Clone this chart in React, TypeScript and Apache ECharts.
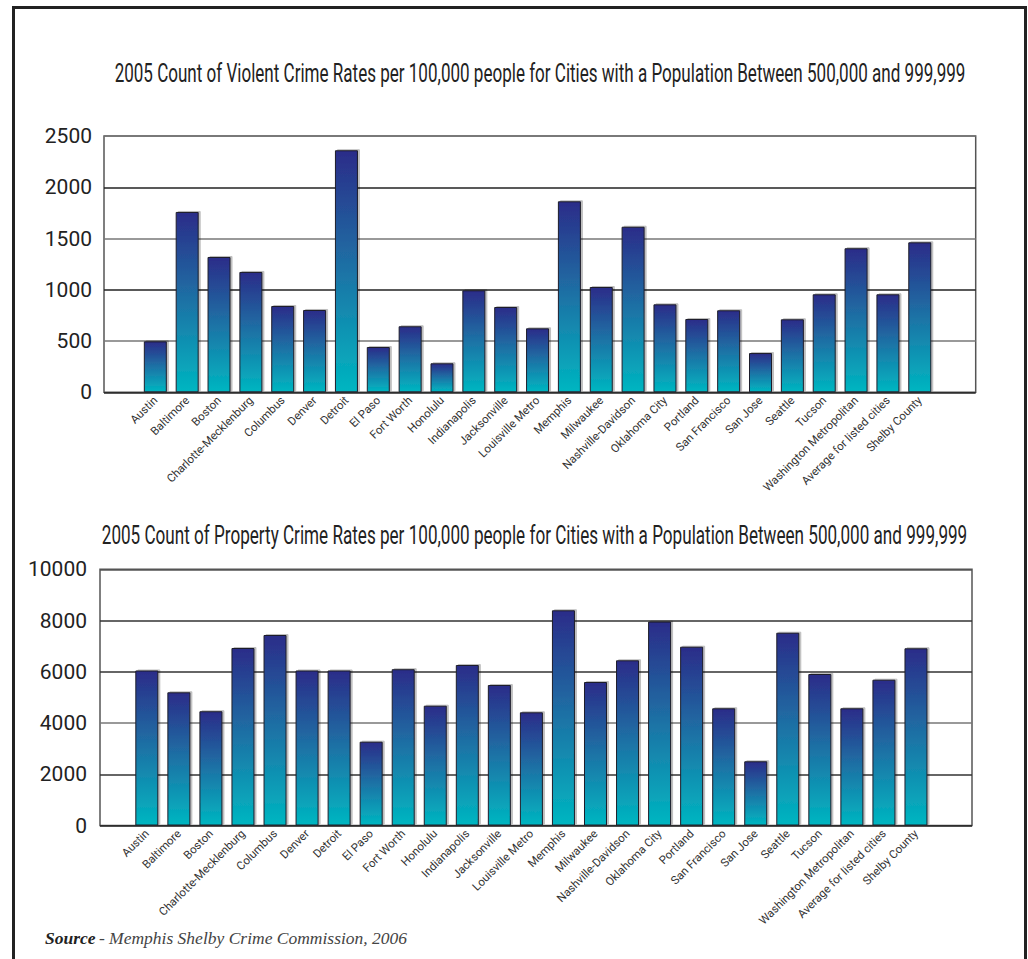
import React, { useEffect, useRef } from "react";
import * as echarts from "echarts";

const categories = [
  "Austin", "Baltimore", "Boston", "Charlotte-Mecklenburg", "Columbus", "Denver", "Detroit",
  "El Paso", "Fort Worth", "Honolulu", "Indianapolis", "Jacksonville", "Louisville Metro",
  "Memphis", "Milwaukee", "Nashville-Davidson", "Oklahoma City", "Portland", "San Francisco",
  "San Jose", "Seattle", "Tucson", "Washington Metropolitan", "Average for listed cities", "Shelby County",
];

const violentValues = [
  497, 1759, 1320, 1174, 842, 803, 2361, 442, 644, 283, 995, 832, 624,
  1863, 1027, 1615, 858, 715, 800, 383, 712, 956, 1405, 956, 1463,
];

const propertyValues = [
  6050, 5199, 4460, 6928, 7435, 6050, 6050, 3271, 6100, 4676, 6265, 5484, 4418,
  8400, 5601, 6448, 7960, 6979, 4575, 2506, 7525, 5913, 4575, 5691, 6916,
];

const violentTitle =
  "2005 Count of Violent Crime Rates per 100,000 people for Cities with a Population Between 500,000 and 999,999";
const propertyTitle =
  "2005 Count of Property Crime Rates per 100,000 people for Cities with a Population Between 500,000 and 999,999";
const sourceLabel = "Source";
const sourceText = "- Memphis Shelby Crime Commission, 2006";

const FONT = "Roboto, 'Liberation Sans', sans-serif";
const TITLE_SIZE = 26;

function measure(text: string, font: string): number {
  const c = document.createElement("canvas").getContext("2d");
  if (!c) return text.length * 10;
  c.font = font;
  return c.measureText(text).width;
}

export default function App() {
  const ref = useRef<HTMLDivElement>(null);

  useEffect(() => {
    if (!ref.current) return;
    const chart = echarts.init(ref.current, null, { renderer: "svg" });

    const titleFont = `${TITLE_SIZE}px Roboto`;
    const topScale = 852 / measure(violentTitle, titleFont);
    const bottomScale = 866 / measure(propertyTitle, titleFont);

    const gradient = () =>
      new echarts.graphic.LinearGradient(0, 0, 0, 1, [
        { offset: 0, color: "#2b2c89" },
        { offset: 0.45, color: "#1f6ca3" },
        { offset: 1, color: "#00b6c1" },
      ]);

    const barStyle = {
      borderColor: "#1e1e2a",
      borderWidth: 1,
      shadowColor: "rgba(0,0,0,0.25)",
      shadowOffsetX: 2,
      shadowOffsetY: -1,
      shadowBlur: 1,
    };

    const frameY = (max: number, interval: number, colors: string[], margin: number) => ({
      type: "value",
      min: 0,
      max,
      interval,
      axisLine: { show: false },
      axisTick: { show: false },
      axisLabel: {
        fontSize: 21,
        color: "#222",
        fontFamily: FONT,
        margin,
        formatter: (v: number) => String(v),
      },
      splitLine: { show: true, lineStyle: { color: colors, width: 1.5 } },
    });

    const hiddenY = (max: number) => ({ type: "value", min: 0, max, show: false, splitLine: { show: false } });

    const catX = (gridIndex: number) => ({
      gridIndex,
      type: "category",
      data: categories,
      axisLine: { show: false },
      axisTick: { show: false },
      axisLabel: { interval: 0, rotate: 45, fontSize: 11.5, color: "#333", fontFamily: FONT, margin: 6 },
    });

    const titleStyle = (text: string) => ({
      text,
      align: "center",
      verticalAlign: "middle",
      fontFamily: "Roboto",
      fontSize: TITLE_SIZE,
      fill: "#222",
    });

    chart.setOption({
      animation: false,
      backgroundColor: "#ffffff",
      grid: [
        { left: 104, top: 136, width: 871.7, height: 256.3, show: true, borderColor: "#555", borderWidth: 1.5, backgroundColor: "transparent" },
        { left: 139.4, top: 136, width: 796.3, height: 256.3 },
        { left: 100, top: 569.3, width: 872, height: 256.2, show: true, borderColor: "#555", borderWidth: 1.5, backgroundColor: "transparent" },
        { left: 130.8, top: 569.3, width: 801.2, height: 256.2 },
      ],
      xAxis: [
        { gridIndex: 0, type: "value", min: 0, max: 1, show: false },
        catX(1),
        { gridIndex: 2, type: "value", min: 0, max: 1, show: false },
        catX(3),
      ],
      yAxis: [
        { gridIndex: 0, ...frameY(2500, 500, ["#222", "#777"], 12) },
        { gridIndex: 1, ...hiddenY(2500) },
        { gridIndex: 2, ...frameY(10000, 2000, ["#222", "#333", "#777", "#333", "#333", "#555"], 13) },
        { gridIndex: 3, ...hiddenY(10000) },
      ],
      series: [
        {
          name: "Violent crime rate",
          type: "bar",
          xAxisIndex: 1,
          yAxisIndex: 1,
          data: violentValues,
          barWidth: 23,
          itemStyle: { ...barStyle, color: gradient() },
        },
        {
          name: "Property crime rate",
          type: "bar",
          xAxisIndex: 3,
          yAxisIndex: 3,
          data: propertyValues,
          barWidth: 23,
          itemStyle: { ...barStyle, color: gradient() },
        },
      ],
      graphic: [
        {
          type: "rect",
          shape: { x: 13.5, y: 7.5, width: 1012, height: 975 },
          style: { fill: "none", stroke: "#222", lineWidth: 3 },
          z: 100,
        },
        {
          type: "text",
          x: 540,
          y: 73,
          scaleX: topScale,
          style: titleStyle(violentTitle),
        },
        {
          type: "text",
          x: 534.5,
          y: 535,
          scaleX: bottomScale,
          style: titleStyle(propertyTitle),
        },
        {
          type: "text",
          x: 45,
          y: 938,
          style: {
            text: `{b|${sourceLabel}} {n|${sourceText}}`,
            verticalAlign: "middle",
            rich: {
              b: { fontFamily: "'Liberation Serif', 'DejaVu Serif', serif", fontStyle: "italic", fontWeight: "bold", fontSize: 17.5, fill: "#222" },
              n: { fontFamily: "'Liberation Serif', 'DejaVu Serif', serif", fontStyle: "italic", fontSize: 17.5, fill: "#444" },
            },
          },
        },
      ],
    });

    return () => chart.dispose();
  }, []);

  return (
    <div
      ref={ref}
      style={{ position: "fixed", left: 0, top: 0, width: 1028, height: 959, background: "#fff" }}
    />
  );
}
